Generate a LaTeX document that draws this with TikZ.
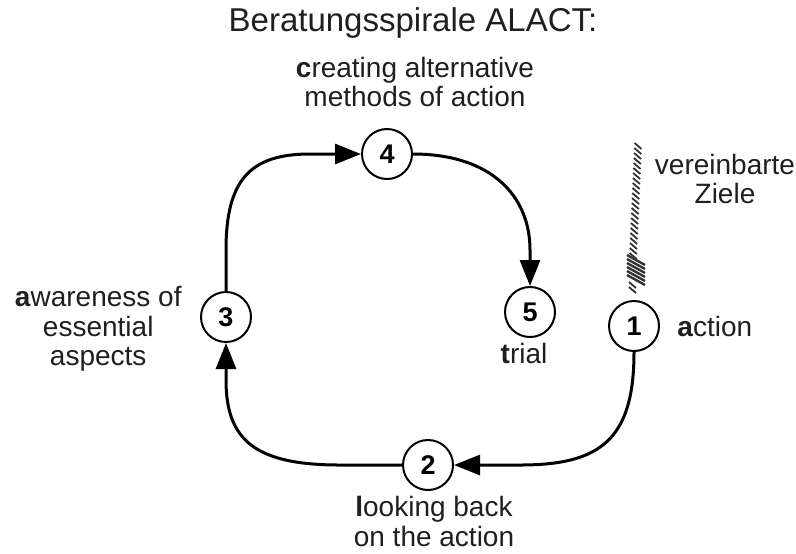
\documentclass[tikz,border=0pt]{standalone}
\usepackage{fontspec}
\setmainfont{Liberation Sans}
\usetikzlibrary{positioning, arrows.meta}

\begin{document}
\begin{tikzpicture}
		[
		x=0.5pt, y=-0.5pt,
		font=\fontsize{14}{14.8}\selectfont,
		phase/.style ={circle, draw=black, line width=1pt, minimum size=25pt, inner sep=0pt, font=\fontsize{13.5}{14}\selectfont\bfseries},
		lbl/.style ={inner sep=0pt, align=center, text=black!88},
		flow/.style ={line width=1.5pt, -{Triangle[length=13pt, width=10pt]}},
		hatch/.style ={line width=0.9pt, black!80}
		]
		\useasboundingbox (0,0) rectangle (796,553);
		% title
		\node[lbl, font=\fontsize{16.5}{18}\selectfont] (title) at (413,23) {Beratungsspirale ALACT:};
		% the five phases
		\node (p1) [phase] at (634,326) {1};
		\node (p2) [phase] at (428,465) {2};
		\node (p3) [phase] at (226,317) {3};
		\node (p4) [phase] at (387,154) {4};
		\node (p5) [phase] at (530,312) {5};
		% labels
		\node[right=8.5pt of p1] (l1) [lbl] {\textbf{a}ction};
		\node[below=2.5pt of p2, xshift=3pt] (l2) [lbl] {\textbf{l}ooking back\\on the action};
		\node[left=9pt of p3, yshift=-6pt] (l3) [lbl] {\textbf{a}wareness of\\essential\\aspects};
		\node (l4) [lbl] at (415,82) {\textbf{c}reating alternative\\methods of action};
		\node[below=2.5pt of p5, xshift=-3pt] (l5) [lbl] {\textbf{t}rial};
		\node (goal) [lbl] at (725,179) {vereinbarte\\Ziele};
		% arrows
		\draw[flow] (p1.south) .. controls (634,440) and (600,465) .. (520,465) -- (p2.east);
		\draw[flow] (p2.west) -- (340,465) .. controls (255,465) and (226,440) .. (226,380) -- (p3.south);
		\draw[flow] (p3.north) -- (226,250) .. controls (226,180) and (250,154) .. (310,154) -- (p4.west);
		\draw[flow] (p4.east) .. controls (490,154) and (530,195) .. (530,250) -- (p5.north);
		% hatched line to the goals
		\foreach \y in {146,151,...,256}
			\draw[hatch] ({638-(\y-146)*0.045-3.5},\y-3) -- ({638-(\y-146)*0.045+3.5},\y+3);
		\foreach \y in {260,264,...,280}
			\draw[hatch, line width=1.2pt] (627,\y-5) -- (645,\y+5);
		\foreach \y in {285,290}
			\draw[hatch] (629,\y-3) -- (636,\y+3);
	\end{tikzpicture}
\end{document}
